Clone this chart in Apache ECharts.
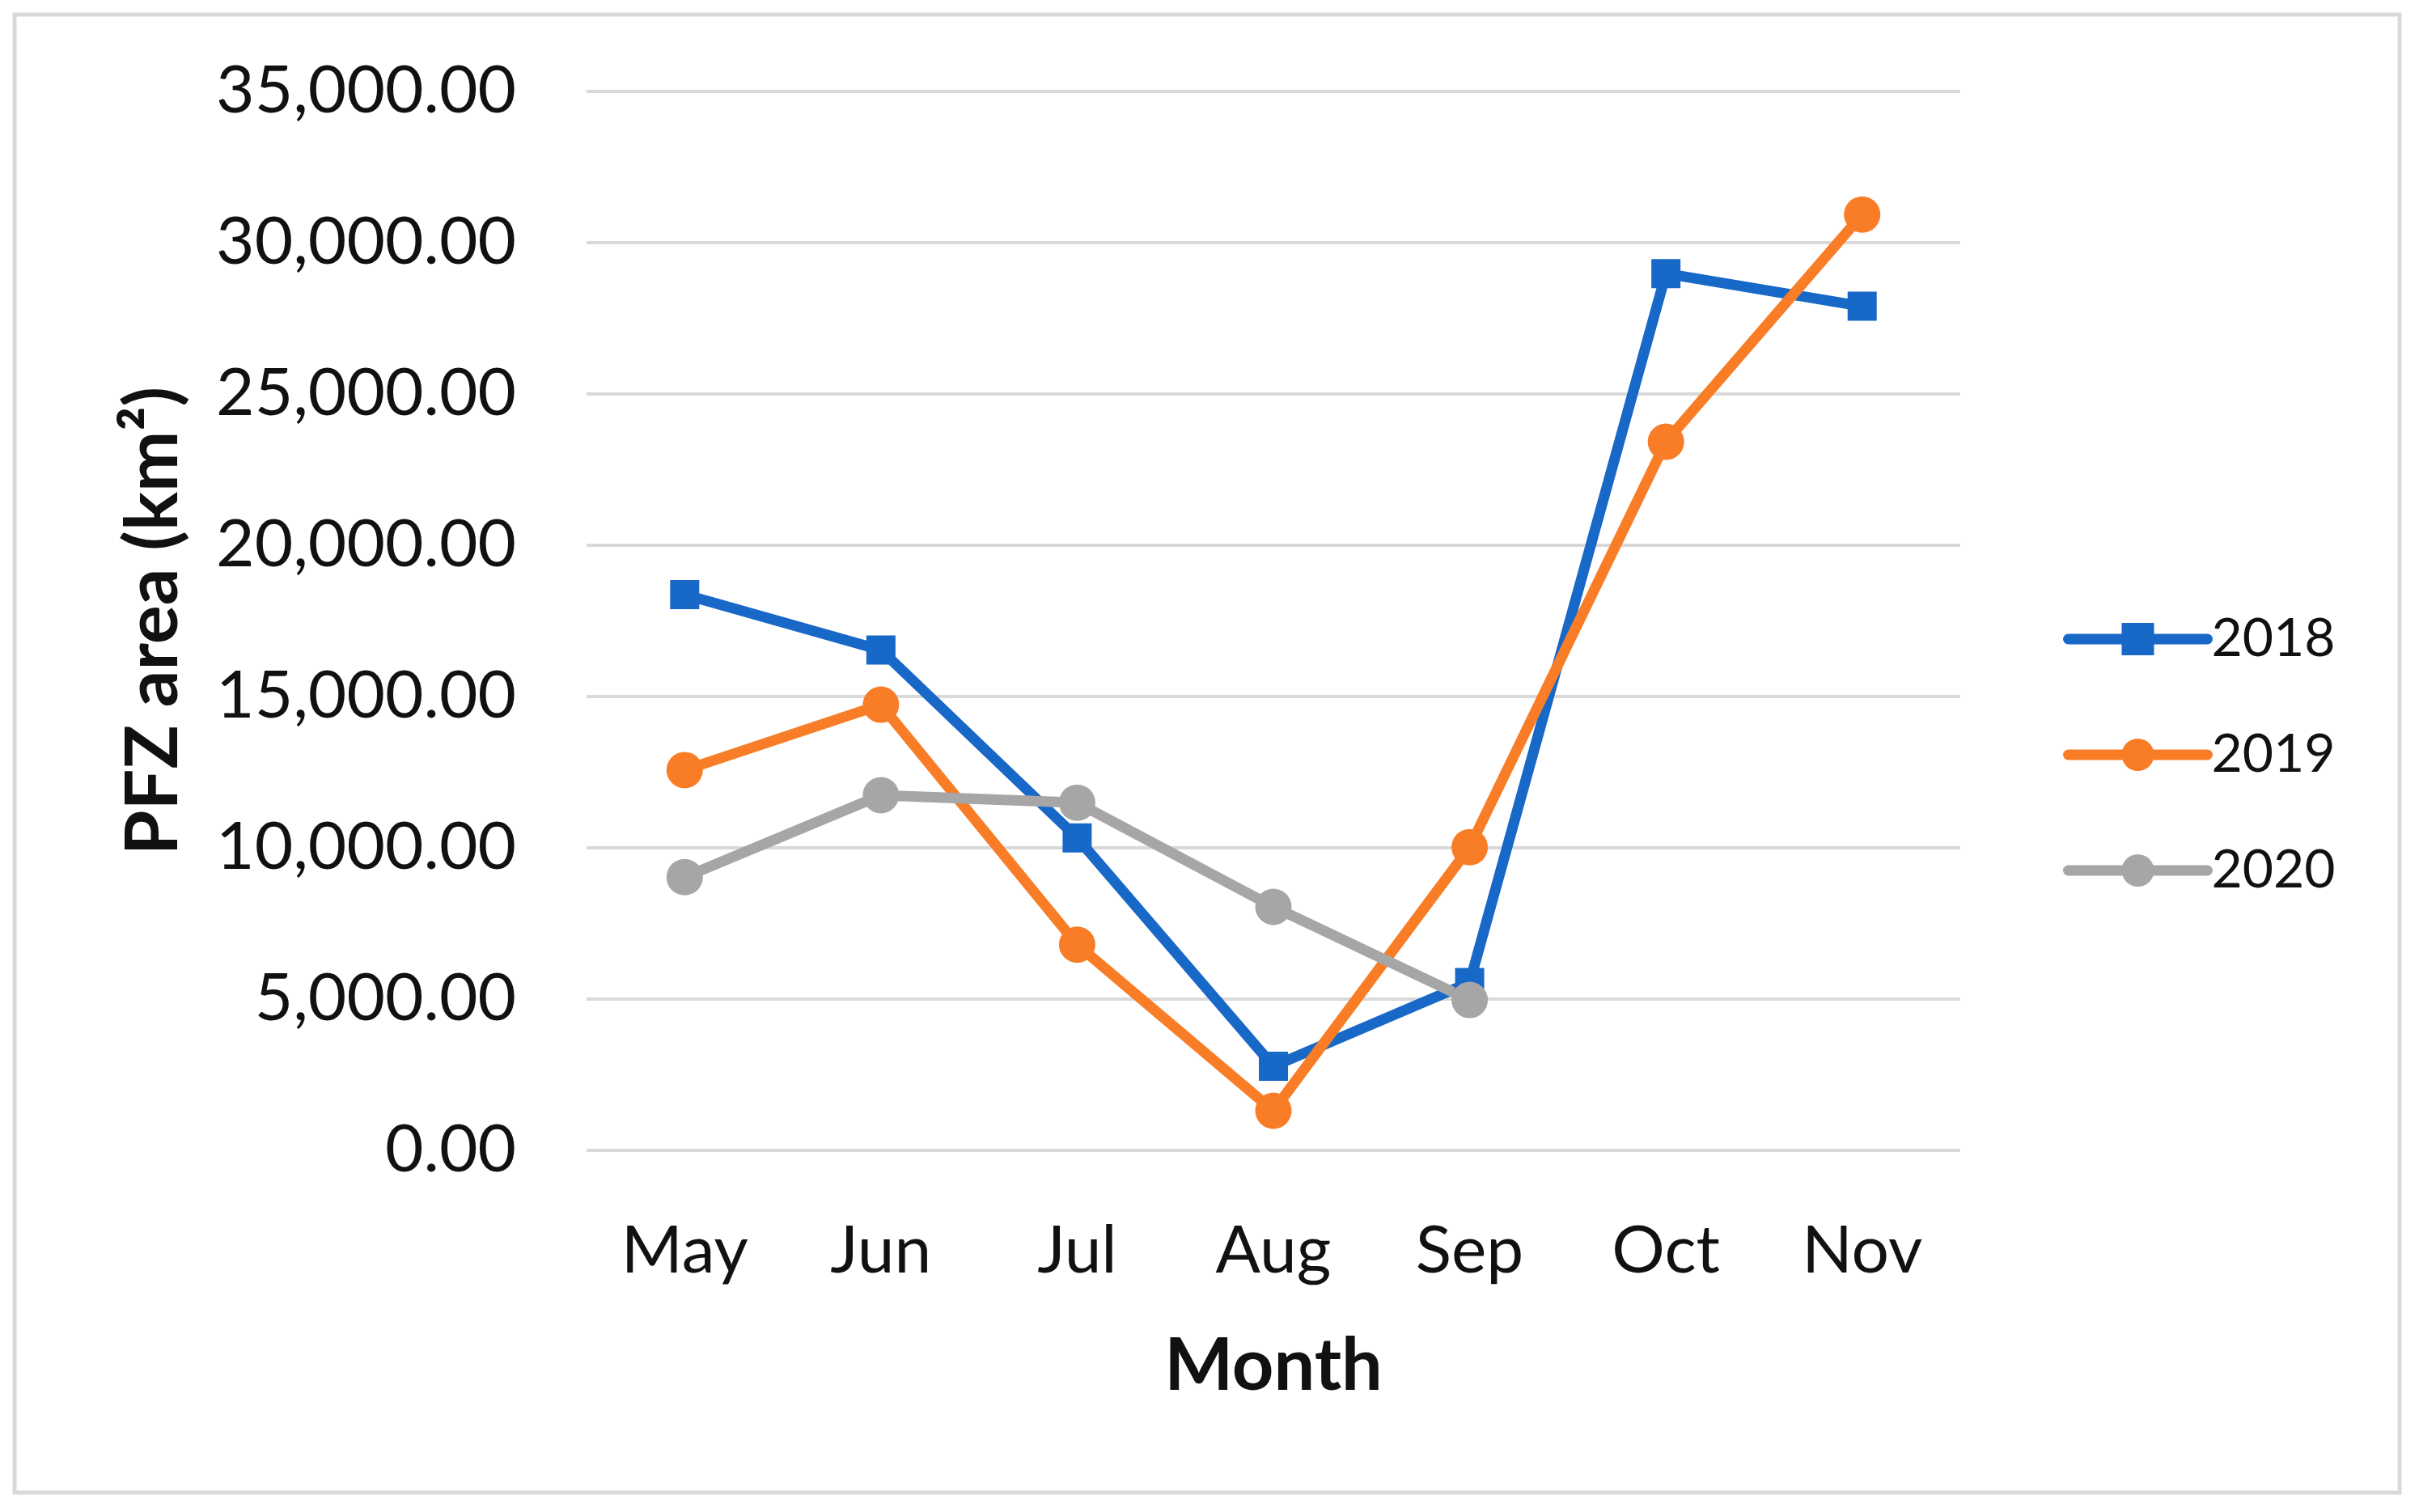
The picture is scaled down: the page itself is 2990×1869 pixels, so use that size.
<!DOCTYPE html>
<html>
<head>
<meta charset="utf-8">
<style>
  html, body { margin: 0; padding: 0; background: #ffffff; }
  #chart { width: 2990px; height: 1869px; }
</style>
<script src="https://cdn.jsdelivr.net/npm/echarts@6/dist/echarts.min.js"></script>
</head>
<body>
<div id="chart"></div>
<script>
// ---- data ----
const months = ['May', 'Jun', 'Jul', 'Aug', 'Sep', 'Oct', 'Nov'];
const series2018 = [18370, 16540, 10330, 2780, 5550, 28980, 27900];
const series2019 = [12570, 14730, 6800, 1310, 10020, 23420, 30930];
const series2020 = [9030, 11740, 11490, 8050, 4970, null, null];
const seriesNames = ['2018', '2019', '2020'];
const yMin = 0;
const yMax = 35000;
const yStep = 5000;

const FONT = 'Lato, "Open Sans", "Noto Sans", sans-serif';
const colors = ['#1868C8', '#F97D26', '#A6A6A6'];
const LINE_W = 13;

const chart = echarts.init(document.getElementById('chart'), null, { renderer: 'canvas' });

function fmt(v) {
  return Number(v).toLocaleString('en-US', { minimumFractionDigits: 2, maximumFractionDigits: 2 });
}

function lineSeries(name, data, color, symbol, size) {
  return {
    name: name,
    type: 'line',
    data: data,
    symbol: symbol,
    symbolSize: size,
    showSymbol: true,
    connectNulls: false,
    color: color,
    lineStyle: { color: color, width: LINE_W, cap: 'round', join: 'round' },
    itemStyle: { color: color, borderWidth: 0 },
    emphasis: { disabled: true },
    animation: false
  };
}

chart.setOption({
  backgroundColor: '#ffffff',
  animation: false,
  textStyle: { fontFamily: FONT },
  graphic: [{
    type: 'rect',
    shape: { x: 18, y: 18, width: 2948, height: 1827 },
    style: { fill: 'none', stroke: '#D9D9D9', lineWidth: 5 },
    silent: true
  }],
  grid: { left: 725, right: 567, top: 113, bottom: 447, containLabel: false },
  legend: {
    orient: 'vertical',
    left: 2545,
    top: 752,
    itemWidth: 172,
    itemHeight: 50,
    itemGap: 77,
    data: seriesNames,
    lineStyle: { width: LINE_W, cap: 'round' },
    textStyle: { fontFamily: FONT, fontSize: 66, color: '#111111' }
  },
  xAxis: {
    type: 'category',
    data: months,
    boundaryGap: true,
    axisLine: { show: false },
    axisTick: { show: false },
    axisLabel: { fontFamily: FONT, fontSize: 82, color: '#111111', margin: 84 },
    name: 'Month',
    nameLocation: 'middle',
    nameGap: 222,
    nameTextStyle: { fontFamily: FONT, fontSize: 90, fontWeight: 'bold', color: '#111111' }
  },
  yAxis: {
    type: 'value',
    min: yMin,
    max: yMax,
    interval: yStep,
    axisLine: { show: false },
    axisTick: { show: false },
    splitLine: { show: true, lineStyle: { color: '#D9D9D9', width: 4 } },
    axisLabel: { fontFamily: FONT, fontSize: 82, color: '#111111', margin: 87, formatter: fmt },
    name: 'PFZ area (km²)',
    nameLocation: 'middle',
    nameGap: 490,
    nameRotate: 90,
    nameTextStyle: { fontFamily: FONT, fontSize: 90, fontWeight: 'bold', color: '#111111' }
  },
  series: [
    lineSeries(seriesNames[0], series2018, colors[0], 'rect', 36),
    lineSeries(seriesNames[1], series2019, colors[1], 'circle', 45),
    lineSeries(seriesNames[2], series2020, colors[2], 'circle', 45)
  ]
});
</script>
</body>
</html>
